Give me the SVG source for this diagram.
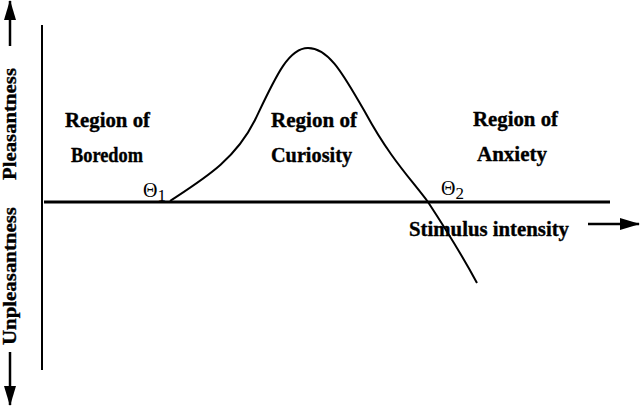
<svg xmlns="http://www.w3.org/2000/svg" width="640" height="406" viewBox="0 0 640 406">
<defs>
<style>
.t{font-family:"Liberation Serif","Times New Roman",serif;font-weight:bold;font-size:20px;fill:#000;stroke:#000;stroke-width:0.35;text-anchor:middle}
.tv{font-size:19px}
.th{font-family:"Liberation Serif","Times New Roman",serif;font-size:20px;fill:#000}
.ln{stroke:#000;fill:none}
</style>
<marker id="ah" viewBox="0 0 20 12" refX="19" refY="6" markerWidth="20" markerHeight="12" markerUnits="userSpaceOnUse" orient="auto">
<path d="M0,0 L20,6 L0,12 Z" fill="#000"/>
</marker>
</defs>
<rect width="640" height="406" fill="#fff"/>
<g id="axes">
<line class="ln" x1="42" y1="25" x2="42" y2="370" stroke-width="2"/>
<line class="ln" x1="44" y1="202" x2="610" y2="202" stroke-width="3"/>
<line class="ln" x1="10" y1="46" x2="10" y2="1" stroke-width="2.5" marker-end="url(#ah)"/>
<line class="ln" x1="10" y1="352" x2="10" y2="405" stroke-width="2.5" marker-end="url(#ah)"/>
<line class="ln" x1="588" y1="224" x2="639" y2="224" stroke-width="2.5" marker-end="url(#ah)"/>
</g>
<g id="connectors">
<path class="ln" stroke-width="2" d="M170,201 C205,178 235,160 255,120 C275,78 288,48 308,48 C330,48 345,78 365,112 C390,158 410,178 428,202 C445,228 462,255 477,283"/>
</g>
<g id="labels">
<text class="t tv" transform="translate(16,124) rotate(-90)" textLength="112" lengthAdjust="spacingAndGlyphs">Pleasantness</text>
<text class="t tv" transform="translate(16,276) rotate(-90)" textLength="138" lengthAdjust="spacingAndGlyphs">Unpleasantness</text>
<text class="t" x="107.5" y="127" textLength="85" lengthAdjust="spacingAndGlyphs">Region of</text>
<text class="t" x="107" y="162" textLength="72" lengthAdjust="spacingAndGlyphs">Boredom</text>
<text class="t" x="314" y="127" textLength="86" lengthAdjust="spacingAndGlyphs">Region of</text>
<text class="t" x="311.5" y="162" textLength="81" lengthAdjust="spacingAndGlyphs">Curiosity</text>
<text class="t" x="515.5" y="126" textLength="85" lengthAdjust="spacingAndGlyphs">Region of</text>
<text class="t" x="512" y="161" textLength="70" lengthAdjust="spacingAndGlyphs">Anxiety</text>
<text class="t" x="489" y="236" textLength="160" lengthAdjust="spacingAndGlyphs">Stimulus intensity</text>
<text class="th" x="143" y="197">Θ<tspan font-size="17" dy="4">1</tspan></text>
<text class="th" x="441" y="195">Θ<tspan font-size="17" dy="4">2</tspan></text>
</g>
</svg>
